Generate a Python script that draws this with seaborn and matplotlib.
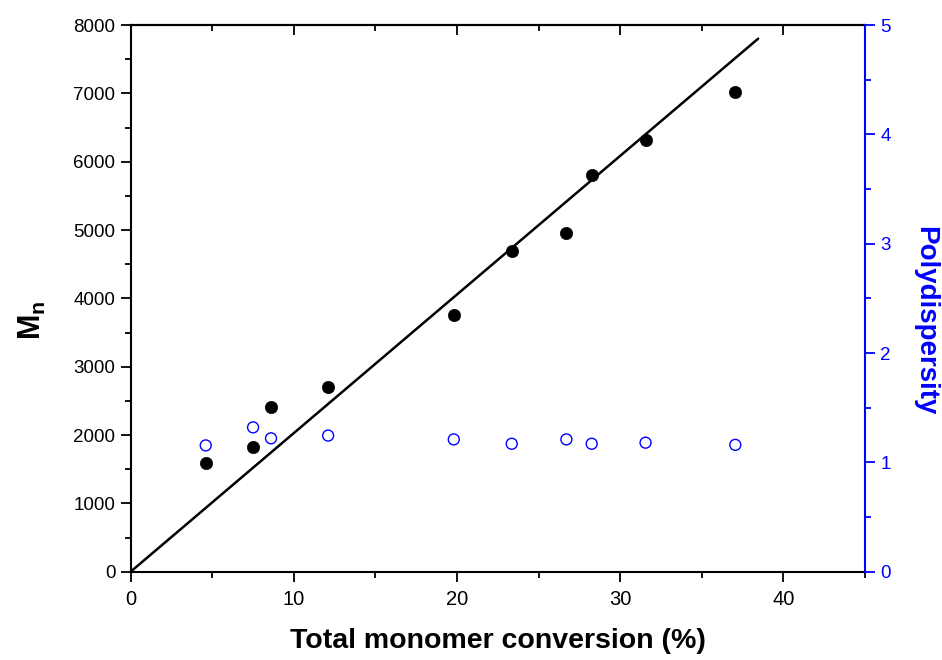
import matplotlib
matplotlib.use("Agg")
import matplotlib.pyplot as plt
import seaborn as sns
from matplotlib.ticker import MultipleLocator

# data
conversion = [4.6, 7.5, 8.6, 12.1, 19.8, 23.35, 26.7, 28.25, 31.55, 37.05]
mn_values = [1596, 1820, 2416, 2698, 3763, 4690, 4963, 5798, 6321, 7023]
pdi_values = [1.155, 1.32, 1.22, 1.245, 1.21, 1.17, 1.21, 1.17, 1.18, 1.16]

# theoretical Mn line
line_conv = [0, 38.45]
line_mn = [0, 7800]

BLUE = "#0000FF"

sns.set_style("ticks")
plt.rcParams["font.family"] = ["Liberation Sans", "DejaVu Sans"]
plt.rcParams["mathtext.fontset"] = "custom"
plt.rcParams["mathtext.bf"] = "Liberation Sans:bold"
plt.rcParams["mathtext.rm"] = "Liberation Sans"
plt.rcParams["text.color"] = "black"
plt.rcParams["axes.labelcolor"] = "black"
plt.rcParams["xtick.color"] = "black"
plt.rcParams["ytick.color"] = "black"

fig = plt.figure(figsize=(9.42, 6.6), dpi=100)
ax = fig.add_axes([0.1387, 0.1338, 0.9183 - 0.1387, 0.9621 - 0.1338])

sns.lineplot(x=line_conv, y=line_mn, color="black", linewidth=1.8, ax=ax)
sns.scatterplot(x=conversion, y=mn_values, color="black", s=78, edgecolor="black",
                linewidth=0.5, ax=ax, zorder=3)

ax.set_xlim(0, 45)
ax.set_ylim(0, 8000)
ax.xaxis.set_major_locator(MultipleLocator(10))
ax.xaxis.set_minor_locator(MultipleLocator(5))
ax.yaxis.set_major_locator(MultipleLocator(1000))
ax.yaxis.set_minor_locator(MultipleLocator(500))
ax.tick_params(axis="both", which="major", direction="out", length=7, width=1.3, color="black")
ax.tick_params(axis="both", which="minor", direction="out", length=4, width=1.3, color="black")
ax.tick_params(axis="x", labelsize=14.5, pad=6, labelcolor="black")
ax.tick_params(axis="y", labelsize=13.5, pad=4, labelcolor="black")
for side in ["left", "bottom", "top"]:
    ax.spines[side].set_linewidth(1.5)
    ax.spines[side].set_color("black")
ax.spines["right"].set_visible(False)

ax.set_xlabel("Total monomer conversion (%)", fontsize=20.5, fontweight="bold",
              labelpad=14, color="black")
ax.set_ylabel(r"$\mathbf{M_n}$", fontsize=22, labelpad=18, color="black")
ax.yaxis.label.set_y(0.46)

# inward ticks along the top
top = ax.secondary_xaxis("top")
top.xaxis.set_major_locator(MultipleLocator(10))
top.xaxis.set_minor_locator(MultipleLocator(5))
top.tick_params(axis="x", which="major", direction="in", length=7, width=1.3,
                color="black", labeltop=False)
top.tick_params(axis="x", which="minor", direction="in", length=4, width=1.3, color="black")
top.spines["top"].set_linewidth(1.5)
top.spines["top"].set_color("black")

ax2 = ax.twinx()
sns.scatterplot(x=conversion, y=pdi_values, marker="o", s=62, facecolor="none",
                edgecolor=BLUE, linewidth=1.0, ax=ax2, zorder=3)
ax2.set_ylim(0, 5)
ax2.yaxis.set_major_locator(MultipleLocator(1))
ax2.yaxis.set_minor_locator(MultipleLocator(0.5))
ax2.tick_params(axis="y", which="major", direction="out", length=7, width=1.3,
                color=BLUE, labelcolor=BLUE, labelsize=13.5, pad=4)
ax2.tick_params(axis="y", which="minor", direction="out", length=4, width=1.3, color=BLUE)
ax2.spines["right"].set_color(BLUE)
ax2.spines["right"].set_linewidth(1.5)
ax2.spines["left"].set_visible(False)
ax2.spines["top"].set_visible(False)
ax2.spines["bottom"].set_visible(False)
ax2.set_ylabel("Polydispersity", fontsize=20, fontweight="bold", color=BLUE,
               rotation=270, labelpad=34)
ax2.yaxis.label.set_y(0.46)

fig.savefig("out.png", dpi=100)
